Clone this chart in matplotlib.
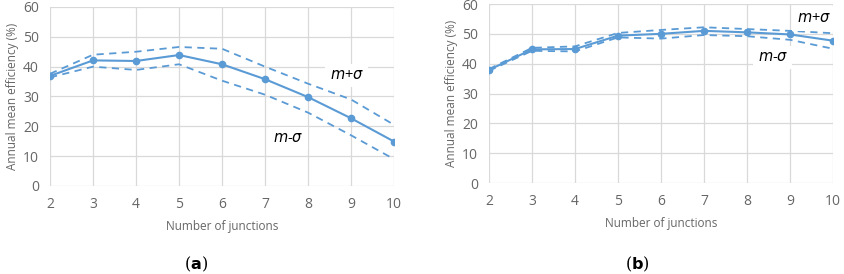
import matplotlib.pyplot as plt

# Data
junctions = [2, 3, 4, 5, 6, 7, 8, 9, 10]

mean_a = [36.9, 42.1, 41.9, 43.9, 40.8, 35.8, 29.8, 22.7, 14.9]
upper_a = [37.6, 44.0, 45.0, 46.6, 46.0, 40.0, 34.3, 29.0, 20.5]
lower_a = [36.4, 40.0, 38.9, 40.8, 35.3, 30.6, 24.6, 17.0, 9.0]

mean_b = [37.9, 44.8, 44.9, 49.4, 50.0, 51.0, 50.5, 49.8, 47.7]
upper_b = [38.2, 45.3, 45.8, 50.3, 51.3, 52.2, 51.6, 51.0, 50.2]
lower_b = [37.6, 44.3, 44.1, 48.8, 48.4, 49.6, 49.2, 48.0, 45.0]

plt.rcParams['font.family'] = ['Open Sans', 'DejaVu Sans']
plt.rcParams['mathtext.fontset'] = 'dejavusans'

blue = '#5b9bd5'
gray = '#666666'
gridc = '#d9d9d9'


def draw_panel(ax, mean, upper, lower, plus_pos, minus_pos):
    ax.plot(junctions, upper, color=blue, lw=1.3, ls=(0, (4, 3)))
    ax.plot(junctions, lower, color=blue, lw=1.3, ls=(0, (4, 3)))
    ax.plot(junctions, mean, color=blue, lw=1.5, marker='o', ms=4.5)
    ax.set_xlim(2, 10)
    ax.set_ylim(0, 60)
    ax.set_xticks(junctions)
    ax.set_yticks(range(0, 61, 10))
    ax.grid(True, color=gridc, lw=0.9)
    ax.set_axisbelow(True)
    for s in ax.spines.values():
        s.set_visible(False)
    ax.tick_params(length=0, colors=gray, labelsize=10, pad=8)
    ax.set_xlabel('Number of junctions', color=gray, fontsize=8.5, labelpad=6)
    ax.set_ylabel('Annual mean efficiency (%)', color=gray, fontsize=8.5,
                  labelpad=3)
    ax.text(plus_pos[0], plus_pos[1], r'$m$+$\sigma$', fontsize=10.5,
            ha='center', va='center',
            bbox=dict(facecolor='white', edgecolor='none', pad=3))
    ax.text(minus_pos[0], minus_pos[1], r'$m$-$\sigma$', fontsize=10.5,
            ha='center', va='center',
            bbox=dict(facecolor='white', edgecolor='none', pad=3))


fig = plt.figure(figsize=(8.45, 2.74), dpi=100)
ax_a = fig.add_axes([0.0592, 0.3212, 0.4071, 0.6533])
ax_b = fig.add_axes([0.5787, 0.3321, 0.4071, 0.6533])

draw_panel(ax_a, mean_a, upper_a, lower_a, (8.9, 37.0), (7.55, 16.0))
draw_panel(ax_b, mean_b, upper_b, lower_b, (9.55, 55.0), (8.6, 42.0))

fig.text(0.2325, 0.034, r'($\mathbf{a}$)', ha='center', va='center',
         fontsize=11.5, family='DejaVu Serif')
fig.text(0.754, 0.034, r'($\mathbf{b}$)', ha='center', va='center',
         fontsize=11.5, family='DejaVu Serif')

fig.savefig('out.png', dpi=100)
